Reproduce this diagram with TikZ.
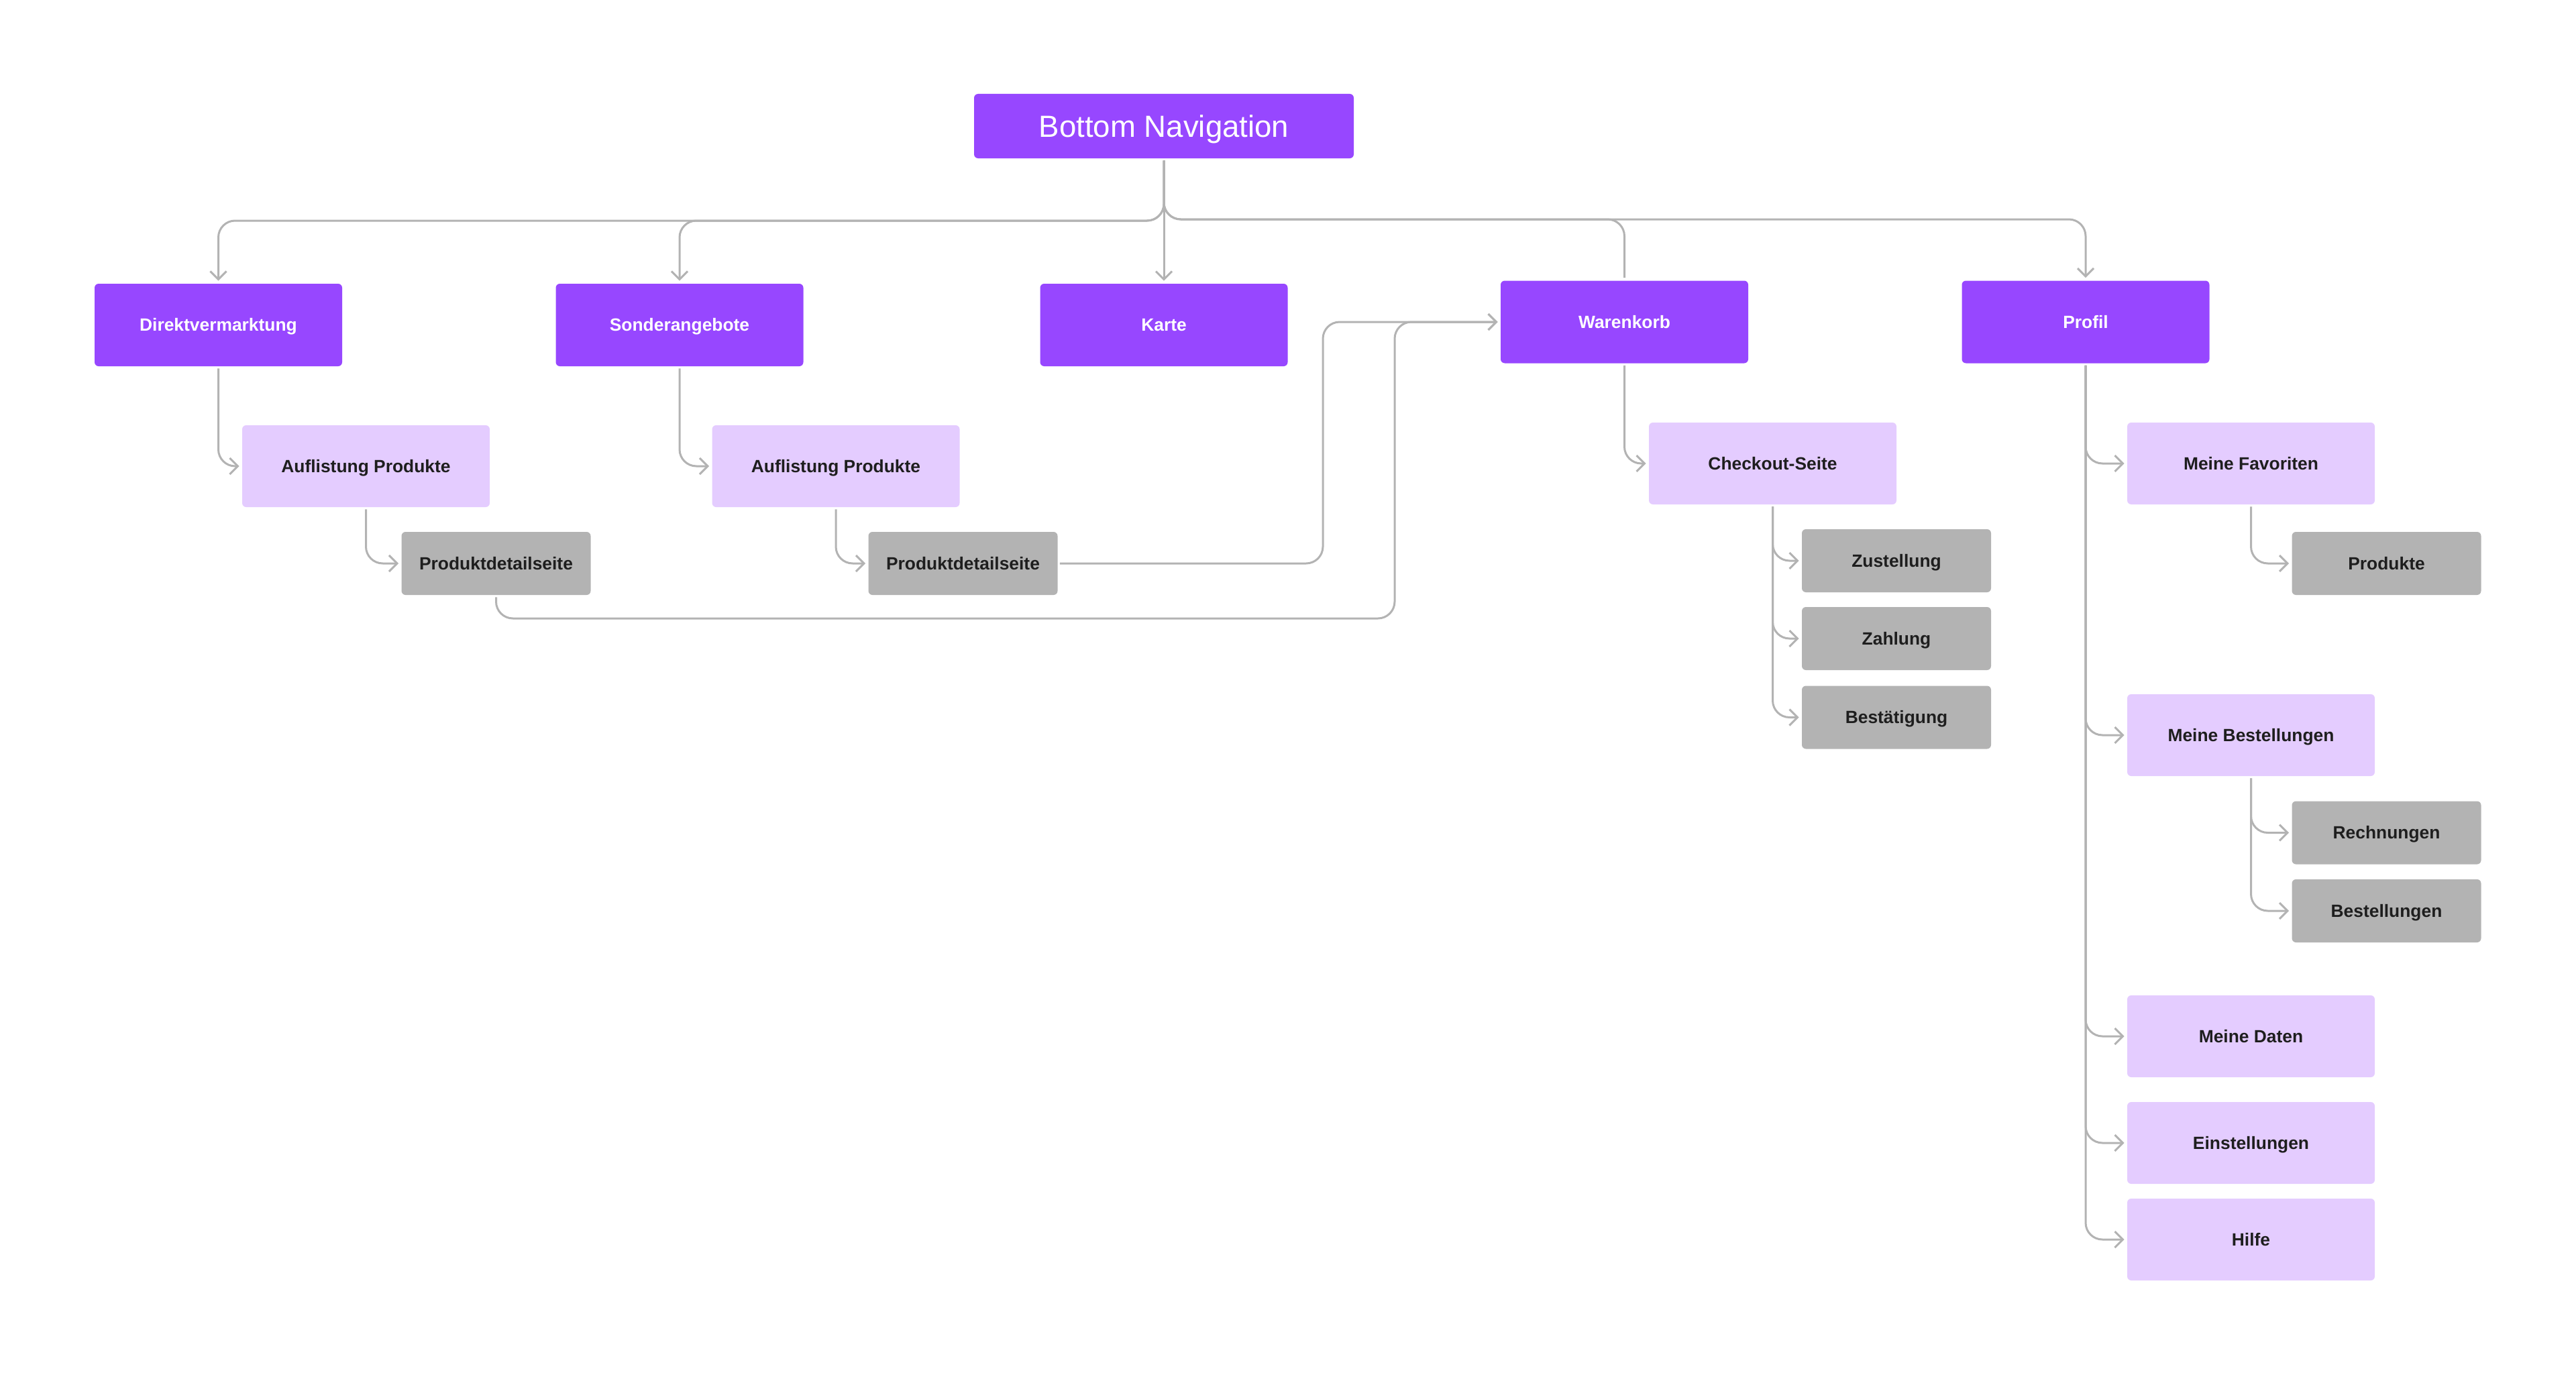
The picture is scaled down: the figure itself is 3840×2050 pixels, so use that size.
\documentclass[tikz,border=0pt]{standalone}
\usepackage{fontspec}
\setmainfont{Liberation Sans}
\usetikzlibrary{arrows.meta}
\definecolor{purp}{HTML}{9747FF}
\definecolor{lpurp}{HTML}{E4CCFF}
\definecolor{gbox}{HTML}{B3B3B3}
\definecolor{lineg}{HTML}{B3B3B3}
\definecolor{dtext}{HTML}{1E1E1E}
\tikzset{
  base/.style={rectangle, rounded corners=3pt, inner sep=0pt, align=center, text height=9.45pt, text depth=0pt, font=\fontsize{13.2pt}{15pt}\selectfont\bfseries},
  topbox/.style={base, fill=purp, text=white, minimum width=283pt, minimum height=48pt, text height=16.3pt, font=\fontsize{22.8pt}{26pt}\selectfont\mdseries},
  lvlone/.style={base, fill=purp, text=white, minimum width=184.5pt, minimum height=61.5pt},
  lvltwo/.style={base, fill=lpurp, text=dtext, minimum width=184.5pt, minimum height=61pt},
  lvlthree/.style={base, fill=gbox, text=dtext, minimum width=141pt, minimum height=47pt},
  conn/.style={draw=lineg, line width=1.5pt, rounded corners=12.5pt, shorten <=1.5pt, shorten >=2pt,
    -{Straight Barb[length=6pt,width=12pt]}},
  plain/.style={draw=lineg, line width=1.5pt, rounded corners=12.5pt, shorten <=1.5pt, shorten >=2pt}
}
\begin{document}
\begin{tikzpicture}[x=0.5pt,y=-0.5pt]
\useasboundingbox (0,0) rectangle (3840,2050);
% nodes
\node[topbox] (bn) at (1735,188) {Bottom Navigation};
\node[lvlone] (direkt) at (325.5,484.5) {Direktvermarktung};
\node[lvlone] (sonder) at (1013,484.5) {Sonderangebote};
\node[lvlone] (karte) at (1735,484.5) {Karte};
\node[lvlone] (wk) at (2421.5,480) {Warenkorb};
\node[lvlone] (profil) at (3109,480) {Profil};
\node[lvltwo] (auf1) at (545.5,695) {Auflistung Produkte};
\node[lvltwo] (auf2) at (1246,695) {Auflistung Produkte};
\node[lvlthree] (pd1) at (739.5,840) {Produktdetailseite};
\node[lvlthree] (pd2) at (1435.5,840) {Produktdetailseite};
\node[lvltwo] (checkout) at (2642.5,691) {Checkout-Seite};
\node[lvlthree] (zust) at (2827,836) {Zustellung};
\node[lvlthree] (zahl) at (2827,952) {Zahlung};
\node[lvlthree] (bestaet) at (2827,1069.5) {Bestätigung};
\node[lvltwo] (mfav) at (3355.5,691) {Meine Favoriten};
\node[lvlthree] (prod) at (3557.5,840) {Produkte};
\node[lvltwo] (mbest) at (3355.5,1096) {Meine Bestellungen};
\node[lvlthree] (rech) at (3557.5,1241.5) {Rechnungen};
\node[lvlthree] (bestell) at (3557.5,1358) {Bestellungen};
\node[lvltwo] (mdaten) at (3355.5,1545) {Meine Daten};
\node[lvltwo] (einst) at (3355.5,1704) {Einstellungen};
\node[lvltwo] (hilfe) at (3355.5,1848) {Hilfe};
% helper coordinates
\coordinate (hl) at (0,329);
\coordinate (hr) at (0,327);
\coordinate (loopa) at (2079,922);
\coordinate (loopb) at (1972,840);
% top distribution
\draw[conn] (bn.south) -- (bn.south |- hl) -- (direkt.north |- hl) -- (direkt.north);
\draw[conn] (bn.south) -- (bn.south |- hl) -- (sonder.north |- hl) -- (sonder.north);
\draw[conn] (bn.south) -- (karte.north);
\draw[plain] (bn.south) -- (bn.south |- hr) -- (wk.north |- hr) -- (wk.north);
\draw[conn] (bn.south) -- (bn.south |- hr) -- (profil.north |- hr) -- (profil.north);
% left branches
\draw[conn] (direkt.south) |- (auf1.west);
\draw[conn] (auf1.south) |- (pd1.west);
\draw[conn] (sonder.south) |- (auf2.west);
\draw[conn] (auf2.south) |- (pd2.west);
% to Warenkorb
\draw[conn] (pd1.south) -- (pd1.south |- loopa) -- (loopa) -- (loopa |- wk.west) -- (wk.west);
\draw[conn] (pd2.east) -- (loopb) -- (loopb |- wk.west) -- (wk.west);
% Warenkorb
\draw[conn] (wk.south) |- (checkout.west);
\draw[conn] (checkout.south) |- (zust.west);
\draw[conn] (checkout.south) |- (zahl.west);
\draw[conn] (checkout.south) |- (bestaet.west);
% Profil
\draw[conn] (profil.south) |- (mfav.west);
\draw[conn] (profil.south) |- (mbest.west);
\draw[conn] (profil.south) |- (mdaten.west);
\draw[conn] (profil.south) |- (einst.west);
\draw[conn] (profil.south) |- (hilfe.west);
\draw[conn] (mfav.south) |- (prod.west);
\draw[conn] (mbest.south) |- (rech.west);
\draw[conn] (mbest.south) |- (bestell.west);
\end{tikzpicture}
\end{document}
